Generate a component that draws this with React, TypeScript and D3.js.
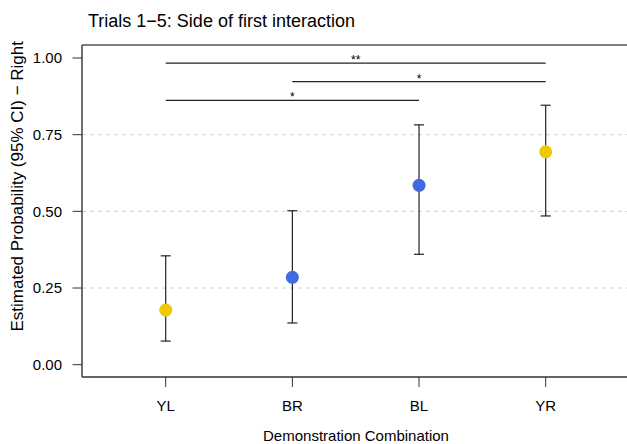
import React from 'react';
import * as d3 from 'd3';

const categories = ["YL", "BR", "BL", "YR"];
const estimates = [0.178, 0.285, 0.585, 0.694];
const lowerCI = [0.077, 0.136, 0.36, 0.485];
const upperCI = [0.355, 0.502, 0.782, 0.846];
const pointColors = ["#EEC900", "#4169E1", "#4169E1", "#EEC900"];
const yTicks = [0, 0.25, 0.5, 0.75, 1];
const gridTicks = [0.25, 0.5, 0.75];

// significance brackets: from, to, height, label
const sigFrom = ["YL", "BR", "YL"];
const sigTo = ["YR", "YR", "BL"];
const sigY = [0.983, 0.923, 0.862];
const sigLabel = ["**", "*", "*"];

const W = 627;
const H = 444;
const left = 82;
const top = 45;
const bottom = 377;

const App = () => {
  const x = d3.scalePoint<string>().domain(categories).range([165.7, 545.7]);
  const y = d3.scaleLinear().domain([0, 1]).range([364.7, 58]);
  const font = "'Liberation Sans', Arial, sans-serif";

  return (
    <svg width={W} height={H} style={{ position: "absolute", left: 0, top: 0 }} fontFamily={font}>
      <rect width={W} height={H} fill="#fff" />
      <text x={88} y={27} fontSize={18} fill="#000">Trials 1−5: Side of first interaction</text>

      {gridTicks.map(t => (
        <line key={t} x1={left} x2={W} y1={y(t)} y2={y(t)} stroke="#cfcfcf" strokeDasharray="4,4" />
      ))}

      {/* frame */}
      <line x1={left} x2={W} y1={top} y2={top} stroke="#555" strokeWidth={1.4} />
      <line x1={left} x2={W} y1={bottom} y2={bottom} stroke="#333" strokeWidth={1.4} />
      <line x1={left} x2={left} y1={top} y2={bottom} stroke="#333" strokeWidth={1.4} />

      {yTicks.map(t => (
        <g key={t}>
          <line x1={72.5} x2={left} y1={y(t)} y2={y(t)} stroke="#333" />
          <text x={62} y={y(t) + 5.3} fontSize={15} textAnchor="end">{t.toFixed(2)}</text>
        </g>
      ))}

      {categories.map(c => (
        <g key={c}>
          <line x1={x(c)} x2={x(c)} y1={bottom} y2={bottom + 10} stroke="#333" />
          <text x={x(c)} y={411} fontSize={15} textAnchor="middle">{c}</text>
        </g>
      ))}

      <text x={356} y={440.5} fontSize={15} textAnchor="middle">Demonstration Combination</text>
      <text transform={`translate(23,41) rotate(-90)`} fontSize={17} textAnchor="end">
        Estimated Probability (95% CI) − Right
      </text>

      {sigFrom.map((f, i) => (
        <g key={i}>
          <line x1={x(f)} x2={x(sigTo[i])} y1={y(sigY[i])} y2={y(sigY[i])} stroke="#222" strokeWidth={1.2} />
          <text x={((x(f) as number) + (x(sigTo[i]) as number)) / 2} y={y(sigY[i]) + 1} fontSize={12} textAnchor="middle">
            {sigLabel[i]}
          </text>
        </g>
      ))}

      {categories.map((c, i) => (
        <g key={c}>
          <line x1={x(c)} x2={x(c)} y1={y(lowerCI[i])} y2={y(upperCI[i])} stroke="#222" strokeWidth={1.2} />
          <line x1={(x(c) as number) - 5} x2={(x(c) as number) + 5} y1={y(lowerCI[i])} y2={y(lowerCI[i])} stroke="#222" strokeWidth={1.2} />
          <line x1={(x(c) as number) - 5} x2={(x(c) as number) + 5} y1={y(upperCI[i])} y2={y(upperCI[i])} stroke="#222" strokeWidth={1.2} />
          <circle cx={x(c)} cy={y(estimates[i])} r={6.5} fill={pointColors[i]} />
        </g>
      ))}
    </svg>
  );
};

export default App;
